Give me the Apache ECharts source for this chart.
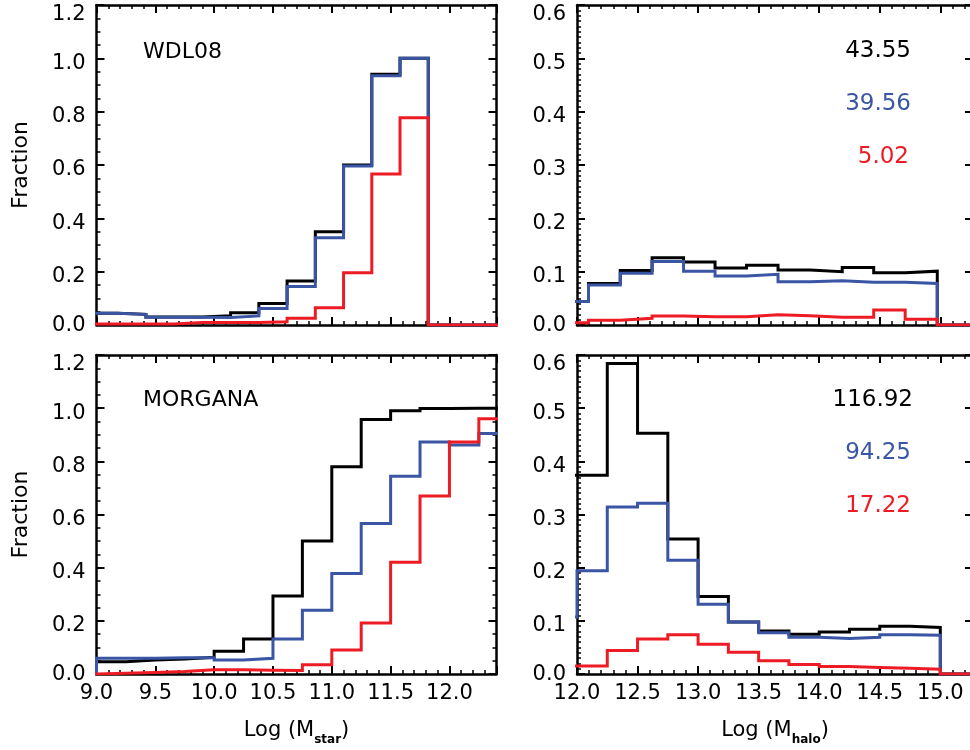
<!DOCTYPE html>
<html><head><meta charset="utf-8">
<script src="https://cdn.jsdelivr.net/npm/echarts@6/dist/echarts.min.js"></script>
<style>html,body{margin:0;padding:0;background:#fff}#c{width:970px;height:750px}</style>
</head><body><div id="c"></div>
<script>
const FONT = 'DejaVu Sans';
const BLACK = '#000000', BLUE = '#3a55a4', RED = '#ed1c24';

// ---- Top-left: WDL08, stellar mass ----
const wdlStarEdges = [8.94, 9.18, 9.42, 9.66, 9.90, 10.14, 10.38, 10.62, 10.86, 11.10, 11.34, 11.58, 11.82, 12.5];
const wdlStarBlack = [0.044, 0.040, 0.030, 0.030, 0.035, 0.046, 0.081, 0.165, 0.350, 0.600, 0.940, 1.000, 0];
const wdlStarBlue  = [0.044, 0.040, 0.029, 0.029, 0.028, 0.034, 0.062, 0.144, 0.327, 0.596, 0.935, 1.000, 0];
const wdlStarRed   = [0.004, 0.004, 0.004, 0.009, 0.009, 0.009, 0.012, 0.025, 0.065, 0.196, 0.566, 0.777, 0];

// ---- Top-right: WDL08, halo mass ----
const wdlHaloEdges = [11.834, 12.095, 12.357, 12.62, 12.88, 13.14, 13.40, 13.66, 13.925, 14.19, 14.45, 14.71, 14.975, 15.5];
const wdlHaloBlack = [0.044, 0.078, 0.102, 0.126, 0.118, 0.107, 0.112, 0.103, 0.100, 0.108, 0.098, 0.101, 0];
const wdlHaloBlue  = [0.044, 0.075, 0.097, 0.119, 0.101, 0.092, 0.095, 0.081, 0.083, 0.080, 0.080, 0.078, 0];
const wdlHaloRed   = [0.004, 0.009, 0.0125, 0.017, 0.0156, 0.0156, 0.019, 0.0175, 0.0144, 0.0144, 0.028, 0.011, 0];

// ---- Bottom-left: MORGANA, stellar mass ----
const morStarEdges = [8.75, 9.0, 9.25, 9.5, 9.75, 10.0, 10.25, 10.5, 10.75, 11.0, 11.25, 11.5, 11.75, 12.0, 12.25, 12.5];
const morStarBlack = [0, 0.046, 0.053, 0.056, 0.063, 0.086, 0.132, 0.293, 0.500, 0.780, 0.957, 0.990, 0.999, 1.000, 1.000];
const morStarBlue  = [0, 0.059, 0.059, 0.061, 0.061, 0.053, 0.059, 0.132, 0.240, 0.378, 0.566, 0.744, 0.873, 0.861, 0.905];
const morStarRed   = [0, 0.0025, 0.006, 0.009, 0.016, 0.016, 0.014, 0.013, 0.035, 0.090, 0.192, 0.420, 0.670, 0.873, 0.960];

// ---- Bottom-right: MORGANA, halo mass ----
const morHaloEdges = [11.75, 12.0, 12.25, 12.5, 12.75, 13.0, 13.25, 13.5, 13.75, 14.0, 14.25, 14.5, 14.75, 15.0, 15.5];
const morHaloBlack = [0.374, 0.374, 0.584, 0.453, 0.254, 0.146, 0.098, 0.081, 0.075, 0.079, 0.084, 0.090, 0.0875, 0];
const morHaloBlue  = [0.107, 0.194, 0.314, 0.321, 0.214, 0.131, 0.098, 0.0775, 0.069, 0.067, 0.069, 0.074, 0.073, 0];
const morHaloRed   = [0.015, 0.015, 0.044, 0.066, 0.074, 0.056, 0.041, 0.025, 0.018, 0.014, 0.012, 0.011, 0.009, 0];

const panelNames = ['WDL08', 'MORGANA'];
const wdlTotals = ['43.55', '39.56', '5.02'];
const morganaTotals = ['116.92', '94.25', '17.22'];
const xTitleStar = 'Log (M{s|star})';
const xTitleHalo = 'Log (M{s|halo})';
const yTitle = 'Fraction';

function steps(edges, vals) {
  const pts = [];
  for (let i = 0; i < vals.length; i++) {
    pts.push([edges[i], vals[i]]);
    pts.push([edges[i + 1], vals[i]]);
  }
  return pts;
}

const grids = [
  { left: 96.5, top: 5, width: 400, height: 320 },
  { left: 577, top: 5, width: 396, height: 320 },
  { left: 96.5, top: 355, width: 400, height: 319 },
  { left: 577, top: 355, width: 396, height: 319 }
].map(g => Object.assign({ outerBoundsMode: 'none', containLabel: false }, g));

const axisLine = { show: true, onZero: false, lineStyle: { color: '#000', width: 2.5 } };
const majorTick = { show: true, inside: true, length: 8, lineStyle: { color: '#000', width: 2 } };

function xPair(gi, min, max, labels, name) {
  const base = {
    type: 'value', gridIndex: gi, min: min, max: max, interval: 0.5,
    axisLine: axisLine, axisTick: majorTick,
    minorTick: { show: true, splitNumber: 5, length: 4, lineStyle: { color: '#000', width: 1.5 } },
    splitLine: { show: false }, minorSplitLine: { show: false }
  };
  const bottom = Object.assign({}, base, {
    position: 'bottom',
    axisLabel: { show: labels, margin: 9, color: '#000', fontFamily: FONT, fontSize: 21,
      showMaxLabel: false, formatter: v => v.toFixed(1) }
  });
  if (name) {
    Object.assign(bottom, {
      name: name, nameLocation: 'middle', nameGap: 42,
      nameTextStyle: { color: '#000', fontFamily: FONT, fontSize: 21, lineHeight: 30, verticalAlign: 'top',
        rich: { s: { fontFamily: FONT, fontSize: 12, fontWeight: 'bold', color: '#000', verticalAlign: 'bottom', lineHeight: 14 } } }
    });
  }
  const top = Object.assign({}, base, { position: 'top', axisLabel: { show: false } });
  return [bottom, top];
}

function yPair(gi, max, interval, leftMinor, rightMinor, name) {
  const base = {
    type: 'value', gridIndex: gi, min: 0, max: max, interval: interval,
    axisLine: axisLine, axisTick: majorTick,
    splitLine: { show: false }, minorSplitLine: { show: false }
  };
  const lab = { fontFamily: FONT, fontSize: 21, color: '#000' };
  const left = Object.assign({}, base, {
    position: 'left',
    minorTick: { show: true, splitNumber: leftMinor, length: 4, lineStyle: { color: '#000', width: 1.5 } },
    axisLabel: { show: true, margin: 11, color: '#000', fontFamily: FONT, fontSize: 21,
      verticalAlign: 'top',
      formatter: v => {
        const s = v.toFixed(1);
        if (v >= max - 1e-9) return '{t|' + s + '}';
        if (v <= 1e-9) return '{b|' + s + '}';
        return '{m|' + s + '}';
      },
      rich: {
        t: Object.assign({ lineHeight: 20 }, lab),
        m: Object.assign({ lineHeight: 10 }, lab),
        b: Object.assign({ lineHeight: 2 }, lab)
      } }
  });
  if (name) {
    Object.assign(left, {
      name: name, nameLocation: 'middle', nameGap: 64, nameRotate: 90,
      nameTextStyle: { color: '#000', fontFamily: FONT, fontSize: 22 }
    });
  }
  const right = Object.assign({}, base, {
    position: 'right',
    minorTick: { show: rightMinor > 0, splitNumber: rightMinor || 5, length: 4, lineStyle: { color: '#000', width: 1.5 } },
    axisLabel: { show: false }
  });
  return [left, right];
}

const xAxis = [].concat(
  xPair(0, 9.0, 12.4, false, null),
  xPair(1, 12.0, 15.27, false, null),
  xPair(2, 9.0, 12.4, true, xTitleStar),
  xPair(3, 12.0, 15.27, true, xTitleHalo)
);
const yAxis = [].concat(
  yPair(0, 1.2, 0.2, 4, 4, yTitle),
  yPair(1, 0.6, 0.1, 10, 0, null),
  yPair(2, 1.2, 0.2, 4, 4, yTitle),
  yPair(3, 0.6, 0.1, 10, 0, null)
);

function hist(gi, edges, vals, color) {
  return {
    type: 'line', xAxisIndex: gi * 2, yAxisIndex: gi * 2,
    data: steps(edges, vals), showSymbol: false, symbol: 'none', silent: true,
    lineStyle: { color: color, width: 3, join: 'miter' }, clip: true, animation: false
  };
}

const series = [
  hist(0, wdlStarEdges, wdlStarBlack, BLACK), hist(0, wdlStarEdges, wdlStarBlue, BLUE), hist(0, wdlStarEdges, wdlStarRed, RED),
  hist(1, wdlHaloEdges, wdlHaloBlack, BLACK), hist(1, wdlHaloEdges, wdlHaloBlue, BLUE), hist(1, wdlHaloEdges, wdlHaloRed, RED),
  hist(2, morStarEdges, morStarBlack, BLACK), hist(2, morStarEdges, morStarBlue, BLUE), hist(2, morStarEdges, morStarRed, RED),
  hist(3, morHaloEdges, morHaloBlack, BLACK), hist(3, morHaloEdges, morHaloBlue, BLUE), hist(3, morHaloEdges, morHaloRed, RED)
];

function txt(text, x, y, color, align, size) {
  return { type: 'text', x: x, y: y, silent: true, z: 100,
    style: { text: text, fill: color, font: size + 'px "' + FONT + '"', align: align, verticalAlign: 'middle',
      textAlign: align, textVerticalAlign: 'middle' } };
}
const colors = [BLACK, BLUE, RED];
const graphic = [
  txt(panelNames[0], 143, 52, BLACK, 'left', 22),
  txt(panelNames[1], 143, 400, BLACK, 'left', 22),
  txt(wdlTotals[0], 911, 51, colors[0], 'right', 23),
  txt(wdlTotals[1], 911, 104, colors[1], 'right', 23),
  txt(wdlTotals[2], 909, 157, colors[2], 'right', 23),
  txt(morganaTotals[0], 913, 400, colors[0], 'right', 23),
  txt(morganaTotals[1], 911, 453, colors[1], 'right', 23),
  txt(morganaTotals[2], 911, 506, colors[2], 'right', 23)
];

const chart = echarts.init(document.getElementById('c'), null, { renderer: 'canvas' });
chart.setOption({
  backgroundColor: '#fff', animation: false,
  grid: grids, xAxis: xAxis, yAxis: yAxis, series: series, graphic: graphic
});
</script></body></html>
